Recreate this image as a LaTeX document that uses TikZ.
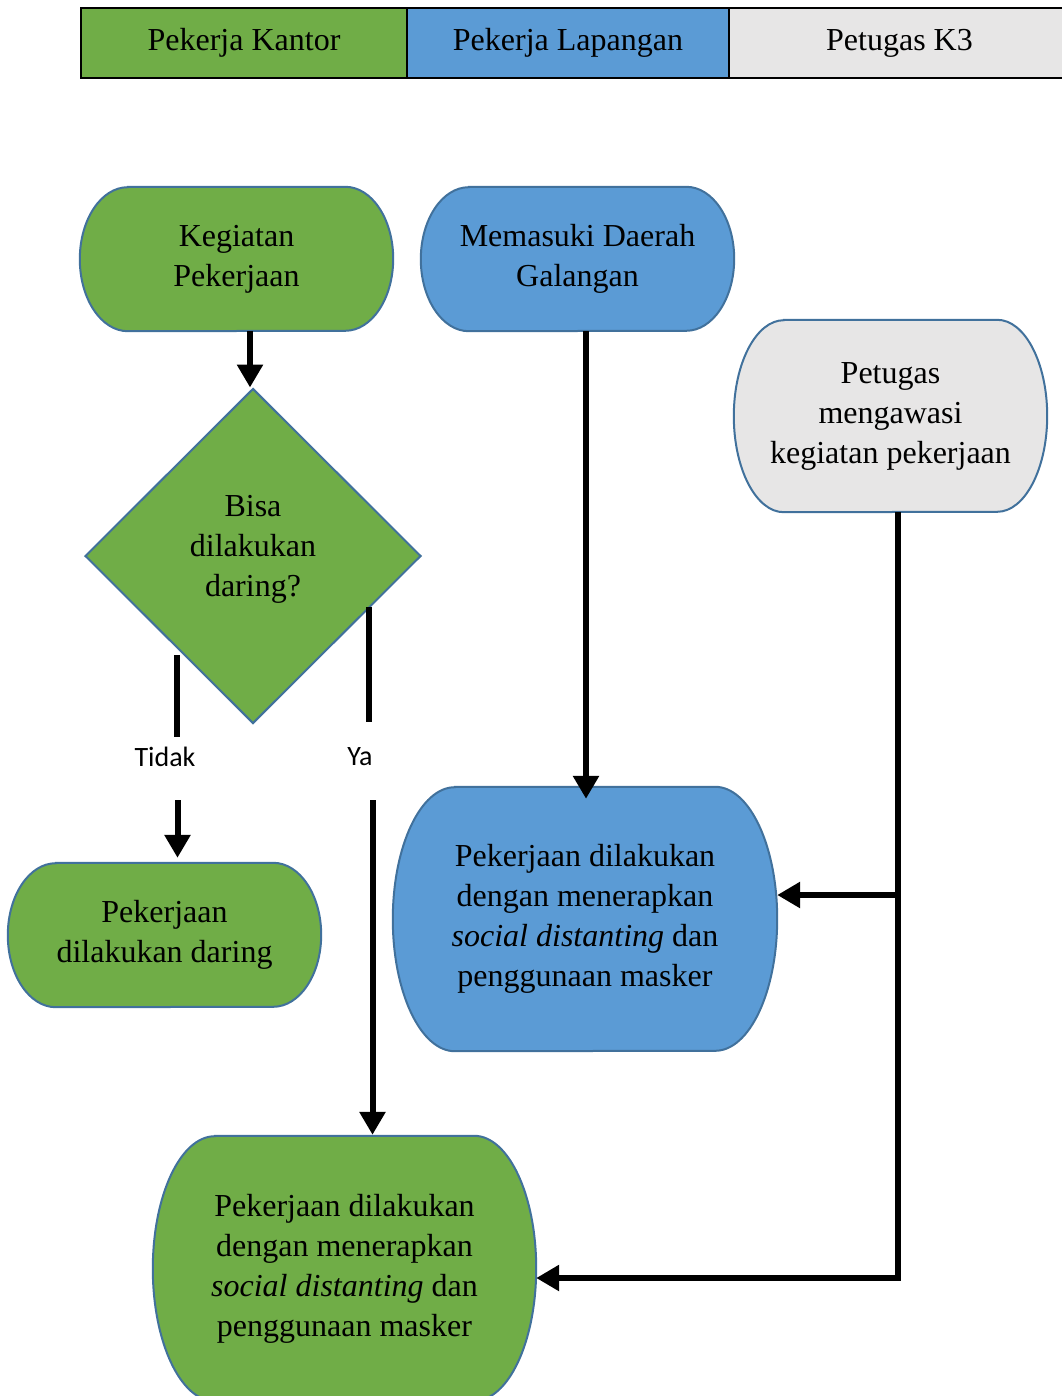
\documentclass[tikz,border=0pt]{standalone}
\usepackage{fontspec}
\setmainfont{Liberation Serif}
\newfontfamily\ketfont{Carlito}
\usetikzlibrary{shapes.geometric,arrows.meta,backgrounds}

\definecolor{hijau}{HTML}{70AD47}
\definecolor{biru}{HTML}{5B9BD5}
\definecolor{abu}{HTML}{E7E6E6}
\definecolor{tepi}{HTML}{41719C}

\tikzset{
  kolom/.style={draw=black, line width=1.5pt, minimum height=70pt, inner sep=0pt,
    font=\fontsize{32}{40}\selectfont},
  teks/.style={align=center, inner sep=0pt, font=\fontsize{32}{40}\selectfont},
  bentuk/.style={draw=tepi, line width=2pt},
  garis/.style={line width=6pt},
  panah/.style={line width=6pt, -{Triangle[length=23pt,width=25pt]}},
  ket/.style={inner sep=0pt, font=\ketfont\fontsize{28}{34}\selectfont}
}

\begin{document}
\begin{tikzpicture}[x=1pt,y=1pt]
\useasboundingbox (0,0) rectangle (1061,-1396);

% kolom judul
\node[kolom, fill=hijau, minimum width=326pt] (kolom1) at (244,-43) {Pekerja Kantor};
\node[kolom, fill=biru, minimum width=322pt] (kolom2) at (568,-43) {Pekerja Lapangan};
\node[kolom, fill=abu, minimum width=341pt] (kolom3) at (899.5,-43) {Petugas K3};

% langkah
\node[teks, minimum width=313pt, minimum height=144pt] (kegiatan) at (236.5,-259) {Kegiatan\\Pekerjaan};
\node[teks, minimum width=313pt, minimum height=144pt] (memasuki) at (577.5,-259) {Memasuki Daerah\\Galangan};
\node[teks, minimum width=313pt, minimum height=192pt] (petugas) at (890.5,-416) {Petugas\\mengawasi\\kegiatan pekerjaan};
\node[diamond, bentuk, fill=hijau, minimum width=336pt, minimum height=335pt, inner sep=0pt,
  align=center, font=\fontsize{32}{40}\selectfont] (bisa) at (253,-556) {Bisa\\dilakukan\\daring?\\[-20pt]};
\node[teks, minimum width=313pt, minimum height=144pt] (daring) at (164.5,-935) {Pekerjaan\\dilakukan daring};
\node[teks, minimum width=384pt, minimum height=264pt] (lapangan) at (585,-919)
  {Pekerjaan dilakukan\\dengan menerapkan\\\emph{social distanting} dan\\penggunaan masker};
\node[teks, minimum width=383pt, minimum height=265pt] (kantor) at (344.5,-1268.5)
  {Pekerjaan dilakukan\\dengan menerapkan\\\emph{social distanting} dan\\penggunaan masker};

% bingkai
\begin{scope}[on background layer]
\draw[bentuk, fill=hijau] ([xshift=48]kegiatan.north west) -- ([xshift=-48]kegiatan.north east)
  arc[start angle=90, end angle=-90, x radius=48, y radius=72] -- ([xshift=48]kegiatan.south west)
  arc[start angle=270, end angle=90, x radius=48, y radius=72] -- cycle;
\draw[bentuk, fill=biru] ([xshift=48]memasuki.north west) -- ([xshift=-48]memasuki.north east)
  arc[start angle=90, end angle=-90, x radius=48, y radius=72] -- ([xshift=48]memasuki.south west)
  arc[start angle=270, end angle=90, x radius=48, y radius=72] -- cycle;
\draw[bentuk, fill=abu] ([xshift=50]petugas.north west) -- ([xshift=-50]petugas.north east)
  arc[start angle=90, end angle=-90, x radius=50, y radius=96] -- ([xshift=50]petugas.south west)
  arc[start angle=270, end angle=90, x radius=50, y radius=96] -- cycle;
\draw[bentuk, fill=hijau] ([xshift=48]daring.north west) -- ([xshift=-48]daring.north east)
  arc[start angle=90, end angle=-90, x radius=48, y radius=72] -- ([xshift=48]daring.south west)
  arc[start angle=270, end angle=90, x radius=48, y radius=72] -- cycle;
\draw[bentuk, fill=biru] ([xshift=62]lapangan.north west) -- ([xshift=-62]lapangan.north east)
  arc[start angle=90, end angle=-90, x radius=62, y radius=132] -- ([xshift=62]lapangan.south west)
  arc[start angle=270, end angle=90, x radius=62, y radius=132] -- cycle;
\draw[bentuk, fill=hijau] ([xshift=62]kantor.north west) -- ([xshift=-62]kantor.north east)
  arc[start angle=90, end angle=-90, x radius=62, y radius=132.5] -- ([xshift=62]kantor.south west)
  arc[start angle=270, end angle=90, x radius=62, y radius=132.5] -- cycle;
\end{scope}

% label
\node[ket] (tidak) at (165,-757) {Tidak};
\node[ket] (ya) at (360,-757) {Ya};

% alur
\draw[panah] ([xshift=-3]bisa.north |- kegiatan.south) -- ([xshift=-3]bisa.north);
\draw[panah] ([xshift=8.5]memasuki.south) -- ([xshift=8.5,yshift=-12]memasuki.south |- lapangan.north);

\draw[garis] ([xshift=8,yshift=-15]bisa.south west) -- ([xshift=8,yshift=10]bisa.south west |- tidak.north);
\draw[panah] ([xshift=9,yshift=-33]bisa.south west |- tidak.south) -- ([xshift=9,yshift=5]bisa.south west |- daring.north);

\draw[garis] ([xshift=31,yshift=33]bisa.south east) -- ([xshift=31,yshift=26]bisa.south east |- ya.north);
\draw[panah] ([xshift=35,yshift=-34]bisa.south east |- ya.south) -- ([xshift=35,yshift=1]bisa.south east |- kantor.north);

\draw[panah] ([xshift=7.5]petugas.south) |- ([yshift=-9.5]kantor.east);
\draw[panah] ([xshift=7.5,yshift=24]petugas.south |- lapangan.east) -- ([yshift=24]lapangan.east);
\end{tikzpicture}
\end{document}
